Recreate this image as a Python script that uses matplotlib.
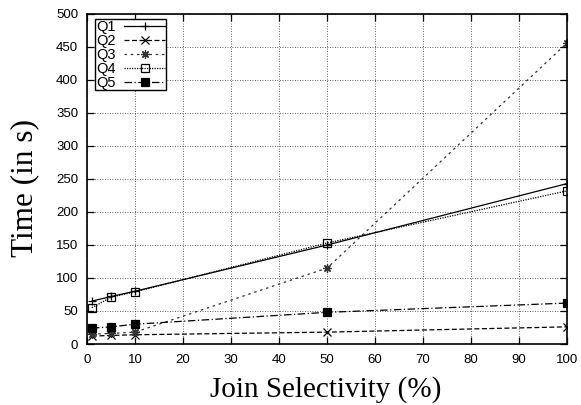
import matplotlib
matplotlib.use("Agg")
import matplotlib.pyplot as plt

# selectividad del join (%) y tiempos en segundos
selectivity = [1, 5, 10, 50, 100]
q1 = [65, 72, 80, 150, 243]
q2 = [12, 13, 14, 18, 26]
q3 = [15, 16, 18, 115, 456]
q4 = [55, 71, 79, 153, 232]
q5 = [24, 26, 30, 48, 62]

series = [
    ("Q1", q1, "-", "+", "black", "none"),
    ("Q2", q2, (0, (4, 2)), "x", "black", "none"),
    ("Q3", q3, (0, (2, 3)), (8, 2, 0), "#333333", "none"),
    ("Q4", q4, (0, (1, 1)), "s", "black", "none"),
    ("Q5", q5, (0, (6, 2, 1, 2)), "s", "black", "black"),
]

SANS = ["Liberation Sans", "DejaVu Sans"]
SERIF = ["Liberation Serif", "DejaVu Serif"]

fig = plt.figure(figsize=(5.81, 4.05), dpi=100)
ax = fig.add_axes([0.150, 0.1506, 0.826, 0.815])

for name, vals, ls, mk, col, fc in series:
    ax.plot(selectivity, vals, linestyle=ls, marker=mk, color=col,
            linewidth=0.9, markersize=6, markerfacecolor=fc,
            markeredgewidth=0.9, label=name)

ax.set_xlim(0, 100)
ax.set_ylim(0, 500)
ax.set_xticks(range(0, 101, 10))
ax.set_yticks(range(0, 501, 50))
ax.grid(True, linestyle=(0, (1, 2)), color="#333333", linewidth=0.6)
ax.tick_params(direction="in", top=True, right=True, length=5,
               labelsize=9.5, width=0.9)
ax.tick_params(axis="x", pad=7.5)
ax.tick_params(axis="y", pad=6.5)
for lab in ax.get_xticklabels() + ax.get_yticklabels():
    lab.set_family(SANS)
for sp in ax.spines.values():
    sp.set_linewidth(1.2)

fig.text(0.56, 0.039, "Join Selectivity (%)", fontsize=21, family=SERIF,
         ha="center", va="center")
fig.text(0.043, 0.537, "Time (in s)", fontsize=22.5, family=SERIF,
         ha="center", va="center", rotation=90)

leg = ax.legend(loc="upper left", bbox_to_anchor=(0.0167, 0.985),
                borderaxespad=0, markerfirst=False, frameon=True,
                fancybox=False, edgecolor="black", framealpha=1,
                borderpad=0.05, labelspacing=0.0, handlelength=2.8,
                handletextpad=0.6, prop={"family": SANS, "size": 10.5})
leg.get_frame().set_linewidth(1.0)

fig.savefig("out.png", dpi=100)
